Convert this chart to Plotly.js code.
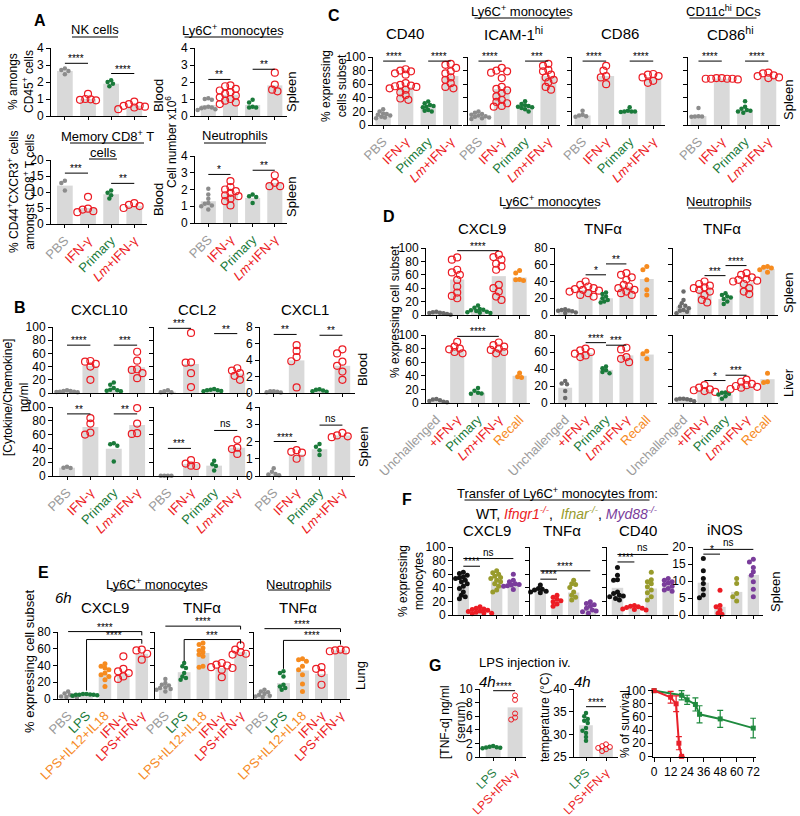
<!DOCTYPE html>
<html>
<head>
<meta charset="utf-8">
<script src="https://cdn.plot.ly/plotly-3.0.1.min.js"></script>
<style>body{margin:0;background:#fff}#plot{width:800px;height:816px}</style>
</head>
<body>
<div id="plot"></div>
<script>
// ---------- categories ----------
const catsA = ['PBS', 'IFN-γ', 'Primary', '<i>Lm</i>+IFN-γ'];
const catsD = ['Unchallenged', '+IFN-γ', 'Primary', '<i>Lm</i>+IFN-γ', 'Recall'];
const catsE = ['PBS', 'LPS', 'LPS+IL12+IL18', 'IFN-γ', 'LPS+IFN-γ'];
const catsG = ['LPS', 'LPS+IFN-γ'];

// ---------- A ----------
const nkBar = [2.65, 1.0, 1.9, 0.6];
const nkPts = [[2.8, 2.7, 2.65, 2.45], [1.3, 1.0, 0.98, 0.95, 0.92], [2.1, 2.0, 1.9, 1.75], [0.85, 0.7, 0.6, 0.55, 0.5, 0.4, 0.6]];
const nkSig = [[0, 1, 3.1, '****'], [2, 3, 2.5, '****']];

const lyBar = [0.65, 1.25, 0.65, 1.8];
const lyPts = [[1.05, 1.0, 0.95, 0.55, 0.5, 0.45, 0.4, 0.35, 0.5], [1.8, 1.75, 1.6, 1.5, 1.4, 1.3, 1.2, 1.1, 1.0, 0.9, 0.8, 0.7], [0.95, 0.8, 0.55, 0.5, 0.5], [2.55, 1.85, 1.55, 1.45]];
const lySig = [[0, 1, 2.15, '**'], [2, 3, 2.75, '**']];

const memBar = [12, 5.0, 9.3, 5.7];
const memPts = [[13.5, 12.8, 10.5], [8.5, 4.8, 4.5, 4.0, 3.7], [10.5, 9.8, 9.0, 8.0], [6.5, 6.0, 5.6, 5.0]];
const memSig = [[0, 1, 15.9, '***'], [2, 3, 12.7, '**']];

const neuABar = [1.3, 1.7, 1.5, 2.4];
const neuAPts = [[2.05, 1.7, 1.45, 1.2, 1.15, 1.05, 1.0, 0.8], [2.5, 2.15, 2.0, 1.9, 1.8, 1.65, 1.6, 1.45, 1.3, 1.05], [1.7, 1.6, 1.55, 1.2], [2.85, 2.4, 2.2, 2.2]];
const neuASig = [[0, 1, 2.9, '*'], [2, 3, 3.15, '**']];

// ---------- B ----------
const cx10bBar = [2, 41, 6, 39];
const cx10bPts = [[4, 3, 2, 2, 1.5, 1, 3], [48.5, 47.5, 44, 40, 20], [16, 12.5, 7.5, 5, 4, 3.5, 2.5], [62.5, 49, 36, 35, 30, 22.5]];
const cx10bSig = [[0, 1, 72.5, '****'], [2, 3, 72.5, '***']];
const ccl2bBar = [2, 44, 4, 29.5];
const ccl2bPts = [[4, 2.5, 1, 1], [91, 46.5, 46, 30, 9], [6, 5, 4, 3, 2.5, 4], [37.5, 34, 30, 26, 20]];
const ccl2bSig = [[0, 1, 98, '***'], [2, 3, 90, '**']];
const cx1bBar = [0.1, 3.95, 0.3, 3.3];
const cx1bPts = [[0.2, 0.15, 0.05, 0.1, 0.2], [5.8, 5.1, 4.35, 3.85, 0.67], [0.45, 0.4, 0.3, 0.2, 0.15], [5.3, 4.8, 3.8, 3.3, 2.6, 1.6]];
const cx1bSig = [[0, 1, 7.1, '**'], [2, 3, 7.0, '**']];

const cx10sBar = [12, 71, 39.5, 74];
const cx10sPts = [[13.5, 12, 11.5], [84, 76, 63, 60], [47.5, 46, 44, 21], [98.5, 76, 62, 61]];
const cx10sSig = [[0, 1, 90, '**'], [2, 3, 90, '**']];
const ccl2sBar = [0.3, 17.5, 15, 41];
const ccl2sPts = [[0.5, 0.3, 0.2, 0.4], [23, 18, 15, 14.5], [22, 17, 14.5, 8], [52.5, 41, 39, 32]];
const ccl2sSig = [[0, 1, 40, '***'], [2, 3, 66, 'ns']];
const cx1sBar = [0.1, 1.25, 1.55, 2.35];
const cx1sPts = [[0.45, 0.25, 0.12, 0.08, 0.05], [1.5, 1.4, 1.35, 1.0], [1.86, 1.7, 1.5, 1.22], [2.5, 2.35, 2.3, 2.25]];
const cx1sSig = [[0, 1, 2.0, '****'], [2, 3, 2.95, 'ns']];

// ---------- C ----------
const cd40Bar = [15.5, 56, 27, 72];
const cd40Pts = [[23, 20, 17, 16, 15, 14, 12, 11, 10], [82, 80, 79, 76, 74, 61.5, 59, 58, 56, 54, 52, 48, 44, 39, 37, 57], [34.5, 32, 29.5, 28, 27, 26, 22, 20, 21], [90, 88.5, 84, 79, 76, 70, 66.5, 61.5, 56, 54]];
const cd40Sig = [[0, 1, 94, '****'], [2, 3, 94, '****']];
const icamBar = [13, 53, 26, 72];
const icamPts = [[20, 18, 16, 15, 14, 13, 12, 11, 10, 9, 13], [84, 80, 79, 77, 69, 56, 53, 51, 47, 42, 37, 32, 28, 27, 34], [35, 31, 29, 28, 27, 26, 25, 23, 20], [90, 87, 81, 79, 74, 70, 66.5, 63, 56, 52]];
const icamSig = [[0, 1, 94, '****'], [2, 3, 94, '***']];
const cd86Bar = [14, 72, 20, 69];
const cd86Pts = [[21, 15, 14, 13, 12], [87, 80, 72, 70, 60], [26, 21, 20, 20, 19, 20], [75, 74, 72, 70, 65, 62]];
const cd86Sig = [[0, 1, 94, '****'], [2, 3, 94, '****']];
const cd86hiBar = [13, 68, 22, 70];
const cd86hiPts = [[25, 13, 12.5, 12.5, 12], [69, 69, 68, 68, 68, 68, 67], [35, 27, 24, 22, 20, 18, 21], [77, 76, 73, 72, 70, 69]];
const cd86hiSig = [[0, 1, 94, '****'], [2, 3, 94, '****']];

// ---------- D ----------
const dCx9sBar = [3, 53, 8, 58, 56];
const dCx9sPts = [[5, 4, 3.5, 3, 2.5, 2, 1.5, 1, 0.5], [86, 82.5, 67.5, 63.5, 60, 52.5, 42.5, 33.5, 28.5, 25], [14, 11, 9, 8, 7, 6, 5, 4, 3.5, 3], [90, 86.5, 82.5, 76.5, 72.5, 67.5, 45, 40, 35, 27.5, 22.5], [66.5, 62.5, 53, 52.5, 51.5]];
const dCx9sSig = [[1, 3, 96, '****']];
const dTnfsBar = [6, 30, 20, 34, 43];
const dTnfsPts = [[7, 6, 5, 4.5, 4, 3, 2.5, 5.5], [40, 36, 34, 32, 31, 30, 29, 28, 26, 24, 22], [27, 25, 22, 20, 18, 16, 15], [50, 48, 45, 42, 36, 34, 32, 30, 28, 26, 24], [58, 54, 42, 30, 24]];
const dTnfsSig = [[1, 2, 48, '*'], [2, 3, 61, '**']];
const dNeusBar = [10, 30, 19, 39, 55];
const dNeusPts = [[28, 18, 14, 11, 10, 8, 6, 5, 4, 2], [40, 37, 35, 33, 32, 30, 28, 24, 18, 15], [26, 24, 22, 21, 19, 16, 13], [50, 48, 45, 43, 42, 41, 40, 37, 32, 28, 25], [58, 57, 56, 54, 51]];
const dNeusSig = [[1, 2, 47, '***'], [2, 3, 59, '****']];

const dCx9lBar = [3, 78, 15, 79, 40];
const dCx9lPts = [[6, 5, 4, 3, 2, 1.5, 1], [90, 83, 80, 79, 75, 73], [22, 18, 15, 14, 13.5], [89, 85, 83, 80, 78, 75, 73], [44, 38.5, 37.5]];
const dCx9lSig = [[1, 3, 98, '****']];
const dTnflBar = [18, 59, 39, 56, 57];
const dTnflPts = [[26, 23, 22, 14, 6], [64, 62, 60, 58, 56, 54], [43, 41, 38.5, 36.5, 35], [65, 63, 54, 52, 48], [61, 58, 52]];
const dTnflSig = [[1, 2, 71, '****'], [2, 3, 68, '***']];
const dNeulBar = [3, 15, 10, 20, 28];
const dNeulPts = [[5, 4.5, 4, 3, 2, 1.5, 3.5, 5], [21, 18, 16, 15, 14, 13], [12.5, 12, 11, 10, 8, 5], [27.5, 25, 22.5, 21, 20, 19, 18, 16.5], [35, 25, 24]];
const dNeulSig = [[1, 2, 26.4, '*'], [2, 3, 32.7, '***']];

// ---------- E ----------
const eCx9Bar = [3, 5, 29, 30, 54];
const eCx9Pts = [[9, 6.5, 5, 4, 3, 2.4, 1.2, 1.5], [6, 5.5, 5, 4.5, 4, 5, 6, 5], [42, 39, 37, 35, 31, 29, 27, 23, 15], [51, 36, 33, 31, 27, 24], [59, 58, 54, 47]];
const eCx9Sig = [[0, 4, 80.5, '****', null, 76], [1, 4, 71, '****', 10, 66]];
const eTnfBar = [13, 32, 55, 37, 56];
const eTnfPts = [[24, 19, 17, 16, 14, 13, 12, 11, 9], [43, 39, 37, 31, 27, 25, 23], [67, 65, 61, 58, 56, 53, 51, 39, 38], [43, 41, 40, 38, 37, 35, 26], [64, 59, 56, 54, 53]];
const eTnfSig = [[0, 4, 87, '****', null, 83], [1, 4, 71, '***', 45, 66]];
const eNeuBar = [5, 19, 34, 30, 58];
const eNeuPts = [[11, 9, 8, 6.4, 5, 4, 3, 2.4], [33, 31, 27, 17, 15, 13, 11], [48, 47, 45, 39, 35, 29, 18, 9], [38, 36, 31, 17], [59, 58, 57, 58]];
const eNeuSig = [[0, 4, 84, '****', null, 80], [1, 4, 70, '****', 36, 65]];

// ---------- F ----------
const fCx9Bar = [46, 6, 50, 46];
const fCx9Pts = [[63, 61, 58.5, 56, 54.6, 53.7, 51, 49, 46, 42.4, 39, 34, 29, 27, 24], [12, 10, 9, 8, 7, 6, 5, 4, 3, 2.5, 2], [65, 62, 60, 57, 55, 53.7, 51, 49, 46, 42.4, 36.6, 34], [60, 51, 49, 46, 45, 44, 43, 42.4, 40.5, 37.6]];
const fCx9Sig = [[0, 1, 71.7, '****'], [0, 3, 83, 'ns']];
const fTnfBar = [37, 20, 33, 10];
const fTnfPts = [[44, 39, 38, 36.6, 35, 34, 32.7], [29, 26, 23, 21, 19.5, 16, 13], [51, 46, 45, 40.5, 34, 29, 26, 22], [19.5, 17, 15, 13, 9.8, 7.3, 6, 4.9, 2.4]];
const fTnfSig = [[0, 1, 52.7, '****'], [0, 3, 65, '****']];
const fCd40Bar = [40, 10, 39, 44];
const fCd40Pts = [[70, 58.5, 52, 51, 34, 31.7, 29, 27.8, 26.8, 24.4, 22], [14, 13, 12, 11, 10, 9, 8, 7.5], [63, 52, 49, 46, 41.5, 36.6, 32.7, 26.8, 22], [53.7, 51, 49, 47, 45, 42.4, 39, 36.6, 35]];
const fCd40Sig = [[0, 1, 78, '****'], [0, 3, 89, 'ns']];
const fNosBar = [9.5, 2.4, 6.8, 11.8];
const fNosPts = [[16.6, 13, 10.7, 9.3, 7.6, 5.9, 5.1], [7.3, 2.8, 2.4, 1.5, 0.5, 0.2], [10.7, 9.3, 6.3, 5.4, 4.1], [16.4, 15.6, 14, 12.7, 11.7, 9.8, 7.6, 5.4]];
const fNosSig = [[0, 1, 17.9, '*'], [0, 3, 19.3, 'ns']];

// ---------- G ----------
const gTnfBar = [1.45, 7.3];
const gTnfPts = [[1.6, 1.5, 1.4, 1.35, 1.3, 1.45], [9.05, 8.4, 6.4, 5.8, 5.5]];
const gTnfSig = [[0, 1, 9.75, '****']];
const gTmpBar = [32, 27];
const gTmpPts = [[34.7, 34, 33.4, 33, 32.5, 31.4, 30.8, 30.3, 29.4, 28.6], [27.8, 27.4, 27.2, 27, 26.7, 26.3]];
const gTmpSig = [[0, 1, 36.1, '****']];
const survHours = [0, 12, 24, 36, 48, 60, 72];
const survGreenX = [0, 20, 24, 30, 33, 48, 72];
const survGreenY = [100, 93, 86, 79, 64, 57, 43];
const survGreenErr = [0, 7, 7, 10, 13, 13, 15];
const survRedX = [0, 12, 16, 18, 20];
const survRedY = [100, 90, 80, 20, 0];
const survRedErr = [0, 9, 12, 10, 0];

// ---------- styling ----------
const W = 800, H = 816;
const RED = '#ec1c24', GREEN = '#1a7a3a', ORANGE = '#f68b1f', OLIVE = '#989b2c', PURPLE = '#7a3d9b';
const GRAY = '#8c8c8c', DGRAY = '#6b6b6b', GRAYTXT = '#9b9b9b', BAR = '#d9d9d9';
const colA = [GRAYTXT, RED, GREEN, RED];
const colD = [GRAYTXT, RED, GREEN, RED, ORANGE];
const colE = [GRAYTXT, GREEN, ORANGE, RED, RED];
const colG = [GREEN, RED];
const styA = ['gy', 'ro', 'gr', 'ro'];
const styD = ['dg', 'ro', 'gr', 'ro', 'or'];
const styE = ['gy', 'gr', 'or', 'ro', 'ro'];
const styF = ['bk', 'rf', 'ol', 'pu'];
const styG = ['gr', 'rs'];
const STY = {
  gy: {symbol: 'circle', size: 4.5, color: GRAY},
  dg: {symbol: 'circle', size: 4.5, color: DGRAY},
  ro: {symbol: 'circle-open', size: 7, color: RED, lw: 1.2},
  rs: {symbol: 'circle-open', size: 5, color: RED, lw: 1},
  gr: {symbol: 'circle', size: 4.5, color: GREEN},
  or: {symbol: 'circle', size: 5, color: ORANGE},
  bk: {symbol: 'circle', size: 5, color: '#111'},
  rf: {symbol: 'circle', size: 5, color: RED},
  ol: {symbol: 'circle', size: 5, color: OLIVE},
  pu: {symbol: 'circle', size: 5, color: PURPLE}
};

const px = x => x / W, py = y => 1 - y / H;
const traces = [], shapes = [], annotations = [];
const layout = {
  width: W, height: H, margin: {l: 0, r: 0, t: 0, b: 0}, showlegend: false,
  paper_bgcolor: '#fff', plot_bgcolor: 'rgba(0,0,0,0)',
  font: {family: '"Liberation Sans", Arial, sans-serif', size: 12, color: '#000'},
  shapes: shapes, annotations: annotations
};

// simple deterministic beeswarm: pixel offsets, dots may overlap a little
function swarm(vals, pxY, d) {
  const placed = [], out = new Array(vals.length);
  const order = vals.map((v, i) => i).sort((a, b) => vals[b] - vals[a]);
  order.forEach(i => {
    const y = vals[i] * pxY;
    for (let k = 0; k < 60; k++) {
      const off = (k % 2 ? -1 : 1) * Math.ceil(k / 2) * d * 0.5;
      if (placed.every(p => Math.hypot(p.x - off, p.y - y) >= d)) {
        placed.push({x: off, y: y}); out[i] = off; break;
      }
    }
  });
  return out;
}

let nAx = 0;
function axisStyle(extra) {
  return Object.assign({showline: true, linecolor: '#000', linewidth: 1, ticks: 'outside',
    tickcolor: '#000', tickwidth: 1, showgrid: false, zeroline: false, fixedrange: true,
    automargin: false, tickmode: 'array'}, extra);
}

function panel(p) {
  const id = ++nAx, s = id > 1 ? id : '';
  const xr = 'x' + s, yr = 'y' + s;
  const n = p.bars.length;
  const xrange = p.xr || [-0.6, n - 0.45];
  const idx = p.bars.map((_, i) => i);
  layout['xaxis' + s] = axisStyle({
    domain: [px(p.box[0]), px(p.box[1])], range: xrange, anchor: yr, ticklen: 3,
    tickvals: idx,
    ticktext: p.cats ? p.cats.map((c, i) => '<span style="color:' + p.catCols[i] + '">' + c + '</span>') : idx.map(() => ''),
    showticklabels: !!p.cats, tickangle: -45, tickfont: {size: p.cf || 13}
  });
  layout['yaxis' + s] = axisStyle({
    domain: [py(p.box[3]), py(p.box[2])], range: p.yr, anchor: xr, ticklen: 4,
    tickvals: p.yt, showticklabels: p.ylab !== false, tickfont: {size: 12}
  });
  traces.push({type: 'bar', x: idx, y: p.bars, xaxis: xr, yaxis: yr, width: p.bw || 0.68,
    marker: {color: BAR, line: {width: 0}}, hoverinfo: 'skip'});
  const pxX = (p.box[1] - p.box[0]) / (xrange[1] - xrange[0]);
  const pxY = (p.box[3] - p.box[2]) / (p.yr[1] - p.yr[0]);
  p.pts.forEach((vals, i) => {
    const st = STY[p.sty[i]];
    const off = swarm(vals, pxY, st.size * 0.72 + 0.3);
    traces.push({type: 'scatter', mode: 'markers', x: off.map(o => i + o / pxX), y: vals,
      xaxis: xr, yaxis: yr, cliponaxis: false, hoverinfo: 'skip',
      marker: {symbol: st.symbol, size: st.size, color: st.color, line: {width: st.lw || 0, color: st.color}}});
  });
  const f = u => (u - p.yr[0]) / (p.yr[1] - p.yr[0]);
  const yd = yr + ' domain';
  (p.sig || []).forEach(sg => {
    const [a, b, v, lab, dl, dr] = sg;
    const ln = {color: '#000', width: 1};
    shapes.push({type: 'line', xref: xr, yref: yd, x0: a, x1: b, y0: f(v), y1: f(v), line: ln});
    if (dl != null) shapes.push({type: 'line', xref: xr, yref: yd, x0: a, x1: a, y0: f(v), y1: f(dl), line: ln});
    if (dr != null) shapes.push({type: 'line', xref: xr, yref: yd, x0: b, x1: b, y0: f(v), y1: f(dr), line: ln});
    annotations.push({xref: xr, yref: yd, x: (a + b) / 2, y: f(v), text: lab, showarrow: false,
      yanchor: 'bottom', font: {size: 10}, yshift: lab === 'ns' ? -1 : -3});
  });
}

function txt(x, y, t, o) {
  annotations.push(Object.assign({xref: 'paper', yref: 'paper', x: px(x), y: py(y), text: t,
    showarrow: false, xanchor: 'center', yanchor: 'middle', font: {size: 13}}, o || {}));
}
function ul(cx, y, w) {
  shapes.push({type: 'line', xref: 'paper', yref: 'paper', x0: px(cx - w / 2), x1: px(cx + w / 2),
    y0: py(y), y1: py(y), line: {color: '#000', width: 1}});
}
const rot = {textangle: -90};
const rot12 = {textangle: -90, font: {size: 12}};

// ---------- A ----------
panel({box: [51, 147, 48, 116], yr: [0, 4], yt: [0, 1, 2, 3, 4], bars: nkBar, pts: nkPts, sty: styA, sig: nkSig});
panel({box: [195, 287, 48, 116], yr: [0, 4], yt: [0, 1, 2, 3, 4], bars: lyBar, pts: lyPts, sty: styA, sig: lySig});
panel({box: [51, 147, 160, 224], yr: [0, 20], yt: [0, 5, 10, 15, 20], bars: memBar, pts: memPts, sty: styA, sig: memSig, cats: catsA, catCols: colA});
panel({box: [195, 287, 156, 223], yr: [0, 4], yt: [0, 1, 2, 3, 4], bars: neuABar, pts: neuAPts, sty: styA, sig: neuASig, cats: catsA, catCols: colA});
txt(40, 20, '<b>A</b>', {font: {size: 16}});
txt(95, 30, 'NK cells'); ul(95, 37, 46);
txt(233, 30, 'Ly6C<sup>+</sup> monocytes'); ul(233, 37, 97);
txt(107, 136, 'Memory CD8<sup>+</sup> T'); ul(107, 143, 74);
txt(103, 152, 'cells'); ul(103, 159, 28);
txt(235, 136, 'Neutrophils'); ul(235, 143, 62);
txt(21, 82, '% amongs<br>CD45<sup>+</sup> cells', rot12);
txt(21, 192, '% CD44<sup>+</sup>CXCR3<sup>+</sup> cells<br>amongst CD8<sup>+</sup> T cells', rot12);
txt(171, 142, 'Cell number x10<sup>6</sup>', rot12);
txt(158, 96, 'Blood', rot); txt(291, 92, 'Spleen', rot);
txt(158, 200, 'Blood', rot); txt(291, 197, 'Spleen', rot);

// ---------- B ----------
const t100 = [0, 20, 40, 60, 80, 100];
panel({box: [53, 150, 327, 393], yr: [0, 100], yt: t100, bars: cx10bBar, pts: cx10bPts, sty: styA, sig: cx10bSig});
panel({box: [154, 250, 327, 393], yr: [0, 100], yt: t100, ylab: false, bars: ccl2bBar, pts: ccl2bPts, sty: styA, sig: ccl2bSig});
panel({box: [260, 355, 327, 393], yr: [0, 8], yt: [0, 2, 4, 6, 8], bars: cx1bBar, pts: cx1bPts, sty: styA, sig: cx1bSig});
panel({box: [53, 150, 407, 476], yr: [0, 100], yt: t100, bars: cx10sBar, pts: cx10sPts, sty: styA, sig: cx10sSig, cats: catsA, catCols: colA});
panel({box: [154, 250, 407, 476], yr: [0, 100], yt: t100, ylab: false, bars: ccl2sBar, pts: ccl2sPts, sty: styA, sig: ccl2sSig, cats: catsA, catCols: colA});
panel({box: [260, 355, 407, 476], yr: [0, 4], yt: [0, 1, 2, 3, 4], bars: cx1sBar, pts: cx1sPts, sty: styA, sig: cx1sSig, cats: catsA, catCols: colA});
txt(20, 307, '<b>B</b>', {font: {size: 16}});
txt(99, 309, 'CXCL10', {font: {size: 15}});
txt(197, 309, 'CCL2', {font: {size: 15}});
txt(305, 309, 'CXCL1', {font: {size: 15}});
txt(16, 398, '[Cytokine/Chemokine]<br>ng/ml', rot12);
txt(363, 370, 'Blood', rot); txt(363, 447, 'Spleen', rot);

// ---------- C ----------
const xrC = [-0.45, 3.5];
panel({box: [373, 462, 57, 125], xr: xrC, yr: [0, 100], yt: t100, bars: cd40Bar, pts: cd40Pts, sty: styA, sig: cd40Sig, cats: catsA, catCols: colA});
panel({box: [468, 560, 57, 125], xr: xrC, yr: [0, 100], yt: t100, ylab: false, bars: icamBar, pts: icamPts, sty: styA, sig: icamSig, cats: catsA, catCols: colA});
panel({box: [572, 665, 57, 125], xr: xrC, yr: [0, 100], yt: t100, ylab: false, bars: cd86Bar, pts: cd86Pts, sty: styA, sig: cd86Sig, cats: catsA, catCols: colA});
panel({box: [688, 780, 57, 125], xr: xrC, yr: [0, 100], yt: t100, ylab: false, bars: cd86hiBar, pts: cd86hiPts, sty: styA, sig: cd86hiSig, cats: catsA, catCols: colA});
txt(334, 15, '<b>C</b>', {font: {size: 16}});
txt(522, 11, 'Ly6C<sup>+</sup> monocytes'); ul(522, 18, 95);
txt(723, 11, 'CD11c<sup>hi</sup> DCs'); ul(723, 18, 67);
txt(405, 34, 'CD40', {font: {size: 15}});
txt(513, 34, 'ICAM-1<sup>hi</sup>', {font: {size: 15}});
txt(620, 34, 'CD86', {font: {size: 15}});
txt(730, 34, 'CD86<sup>hi</sup>', {font: {size: 15}});
txt(334, 86, '% expressing<br>cells subset', rot12);
txt(788, 100, 'Spleen', rot);

// ---------- D ----------
const xrD = [-0.5, 4.5];
const t80 = [0, 20, 40, 60, 80];
panel({box: [426, 530, 248, 315], xr: xrD, yr: [0, 100], yt: t100, bars: dCx9sBar, pts: dCx9sPts, sty: styD, sig: dCx9sSig});
panel({box: [555, 657, 248, 315], xr: xrD, yr: [0, 80], yt: t80, bars: dTnfsBar, pts: dTnfsPts, sty: styD, sig: dTnfsSig});
panel({box: [673, 778, 248, 315], xr: xrD, yr: [0, 80], yt: t80, ylab: false, bars: dNeusBar, pts: dNeusPts, sty: styD, sig: dNeusSig});
panel({box: [426, 530, 335, 403], xr: xrD, yr: [0, 100], yt: t100, bars: dCx9lBar, pts: dCx9lPts, sty: styD, sig: dCx9lSig, cats: catsD, catCols: colD});
panel({box: [555, 657, 335, 403], xr: xrD, yr: [0, 80], yt: t80, bars: dTnflBar, pts: dTnflPts, sty: styD, sig: dTnflSig, cats: catsD, catCols: colD});
panel({box: [673, 778, 335, 403], xr: xrD, yr: [0, 80], yt: t80, ylab: false, bars: dNeulBar, pts: dNeulPts, sty: styD, sig: dNeulSig, cats: catsD, catCols: colD});
txt(389, 217, '<b>D</b>', {font: {size: 16}});
txt(550, 201, 'Ly6C<sup>+</sup> monocytes'); ul(550, 208, 94);
txt(719, 201, 'Neutrophils'); ul(719, 208, 62);
txt(482, 228, 'CXCL9', {font: {size: 15}});
txt(603, 228, 'TNFα', {font: {size: 15}});
txt(722, 228, 'TNFα', {font: {size: 15}});
txt(395, 312, '% expressing cell subset', rot12);
txt(788, 293, 'Spleen', rot); txt(788, 383, 'Liver', rot);

// ---------- E ----------
const xrE = [-0.55, 4.5];
panel({box: [58, 151, 632, 699], xr: xrE, yr: [0, 80], yt: t80, bars: eCx9Bar, pts: eCx9Pts, sty: styE, sig: eCx9Sig, cats: catsE, catCols: colE});
panel({box: [155, 250, 632, 699], xr: xrE, yr: [0, 80], yt: t80, ylab: false, bars: eTnfBar, pts: eTnfPts, sty: styE, sig: eTnfSig, cats: catsE, catCols: colE});
panel({box: [254, 350, 632, 699], xr: xrE, yr: [0, 80], yt: t80, ylab: false, bars: eNeuBar, pts: eNeuPts, sty: styE, sig: eNeuSig, cats: catsE, catCols: colE});
txt(43, 572, '<b>E</b>', {font: {size: 16}});
txt(63, 597, '<i>6h</i>', {font: {size: 15}});
txt(157, 584, 'Ly6C<sup>+</sup> monocytes'); ul(157, 590, 93);
txt(299, 584, 'Neutrophils'); ul(299, 590, 62);
txt(105, 607, 'CXCL9', {font: {size: 15}});
txt(202, 607, 'TNFα', {font: {size: 15}});
txt(298, 607, 'TNFα', {font: {size: 15}});
txt(29, 662, '% expressing cell subset', rot);
txt(360, 676, 'Lung', rot);

// ---------- F ----------
const xrF = [-0.62, 3.58];
panel({box: [453, 523, 547, 615], xr: xrF, yr: [0, 100], yt: t100, bars: fCx9Bar, pts: fCx9Pts, sty: styF, sig: fCx9Sig});
panel({box: [530, 600, 547, 615], xr: xrF, yr: [0, 100], yt: t100, ylab: false, bars: fTnfBar, pts: fTnfPts, sty: styF, sig: fTnfSig});
panel({box: [607, 678, 547, 615], xr: xrF, yr: [0, 100], yt: t100, ylab: false, bars: fCd40Bar, pts: fCd40Pts, sty: styF, sig: fCd40Sig});
panel({box: [693, 763, 547, 615], xr: xrF, yr: [0, 20], yt: [0, 5, 10, 15, 20], bars: fNosBar, pts: fNosPts, sty: styF, sig: fNosSig});
txt(407, 499, '<b>F</b>', {font: {size: 16}});
txt(557, 493, 'Transfer of Ly6C<sup>+</sup> monocytes from:'); ul(557, 500, 185);
txt(567, 513, 'WT, <span style="color:' + RED + '"><i>Ifngr1<sup>-/-</sup></i></span>,  <span style="color:' + OLIVE + '"><i>Ifnar<sup>-/-</sup></i></span>, <span style="color:' + PURPLE + '"><i>Myd88<sup>-/-</sup></i></span>', {font: {size: 14}});
txt(487, 530, 'CXCL9', {font: {size: 15}});
txt(562, 530, 'TNFα', {font: {size: 15}});
txt(638, 530, 'CD40', {font: {size: 15}});
txt(725, 529, 'iNOS', {font: {size: 15}});
txt(411, 581, '% expressing<br>monocytes', rot12);
txt(775, 592, 'Spleen', rot);

// ---------- G ----------
panel({box: [480, 526, 689, 757], xr: [-0.6, 1.5], yr: [0, 10], yt: [0, 2, 4, 6, 8, 10], bars: gTnfBar, pts: gTnfPts, sty: styG, sig: gTnfSig, cats: catsG, catCols: colG, cf: 12});
panel({box: [574, 618, 689, 757], xr: [-0.6, 1.6], yr: [25, 40], yt: [25, 30, 35, 40], bars: gTmpBar, pts: gTmpPts, sty: styG, sig: gTmpSig, cats: catsG, catCols: colG, cf: 12});
// survival curve
nAx++;
const sv = nAx;
layout['xaxis' + sv] = axisStyle({domain: [px(653), px(756)], range: [-0.8, 74], anchor: 'y' + sv,
  ticklen: 4, tickvals: survHours, tickfont: {size: 12}});
layout['yaxis' + sv] = axisStyle({domain: [py(757), py(690)], range: [-1, 101], anchor: 'x' + sv,
  ticklen: 4, tickvals: t100, tickfont: {size: 12}});
[[survGreenX, survGreenY, survGreenErr, '#1e8a3e'], [survRedX, survRedY, survRedErr, '#e8202a']].forEach(s => {
  traces.push({type: 'scatter', mode: 'lines+markers', x: s[0], y: s[1], xaxis: 'x' + sv, yaxis: 'y' + sv,
    cliponaxis: false, hoverinfo: 'skip', line: {color: s[3], width: 2},
    marker: {symbol: 'square', size: 5, color: s[3]},
    error_y: {type: 'data', array: s[2], visible: true, color: s[3], thickness: 1.2, width: 3}});
});
txt(435, 665, '<b>G</b>', {font: {size: 16}});
txt(477, 662, 'LPS injection iv.', {xanchor: 'left'});
txt(487, 681, '<i>4h</i>', {font: {size: 15}});
txt(582, 681, '<i>4h</i>', {font: {size: 15}});
txt(453, 722, '[TNF-α] ng/ml<br>(serum)', rot12);
txt(545, 717, 'temperature (°C)', rot12);
txt(625, 724, '% of survival', rot12);

Plotly.newPlot('plot', traces, layout, {displayModeBar: false, staticPlot: true});
</script>
</body>
</html>
